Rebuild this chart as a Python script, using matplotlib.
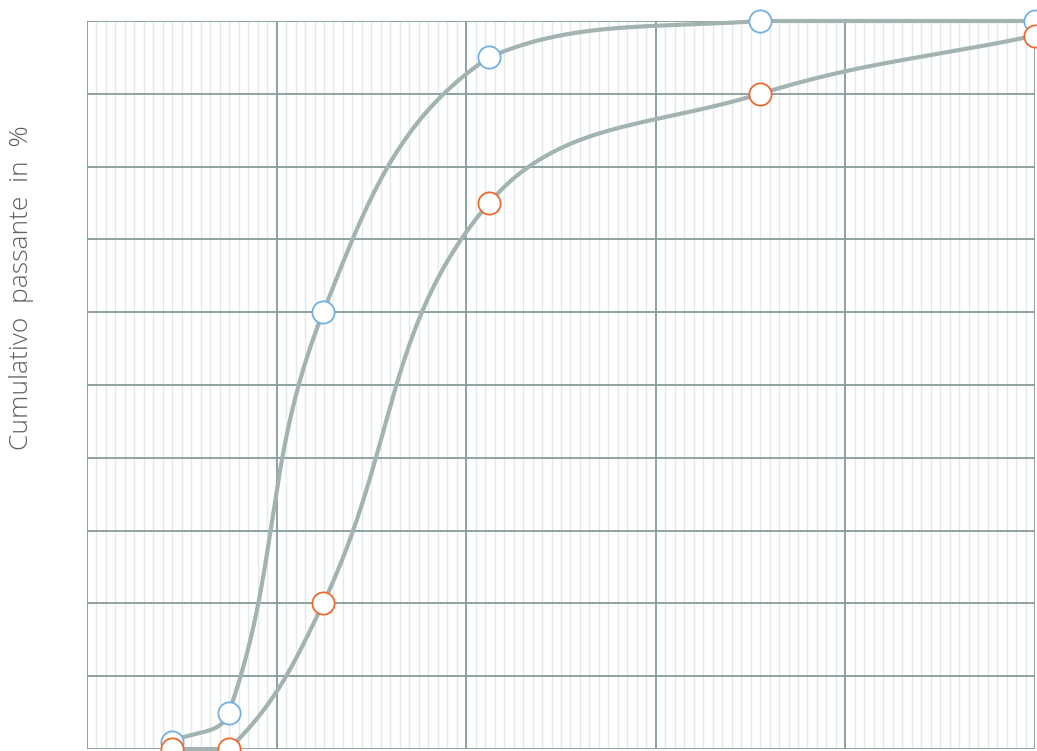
import numpy as np
import matplotlib
matplotlib.use("Agg")
import matplotlib.pyplot as plt

# grain size (log axis, 5 decades) and cumulative passing in %
size = [0.0028, 0.0056, 0.0176, 0.132, 3.55, 100.0]
blue_pass = [1, 5, 60, 95, 100, 100]
orange_pass = [0, 0, 20, 75, 90, 98]

xmin, xmax = 0.001, 100.0
W, H = 1037, 751
ax_l, ax_b, ax_w, ax_h = 87, 2, 948, 728

line_col = "#a2b3b2"
major_col = "#869a9a"
minor_col = "#e2e9e9"
blue = "#72b1e2"
orange = "#ea6a2f"


def to_px(x, y):
    fx = (np.log10(x) - np.log10(xmin)) / (np.log10(xmax) - np.log10(xmin))
    return fx * ax_w, (1 - np.asarray(y) / 100.0) * ax_h


def from_px(px, py):
    lx = np.log10(xmin) + px / ax_w * (np.log10(xmax) - np.log10(xmin))
    return 10 ** lx, (1 - py / ax_h) * 100.0


def spline(xs, ys, t=0.4, n=60):
    # bezier smoothing with control points clamped to the plot area
    px, py = to_px(np.array(xs), np.array(ys))
    pts = list(zip(px, py))
    m = len(pts)
    cps = []
    for i in range(m):
        prev = pts[i - 1] if i > 0 else pts[i]
        cur = pts[i]
        nxt = pts[i + 1] if i < m - 1 else pts[i]
        d01 = np.hypot(cur[0] - prev[0], cur[1] - prev[1])
        d12 = np.hypot(nxt[0] - cur[0], nxt[1] - cur[1])
        s01 = d01 / (d01 + d12) if d01 + d12 > 0 else 0
        s12 = d12 / (d01 + d12) if d01 + d12 > 0 else 0
        fa, fb = t * s01, t * s12
        cp_prev = [cur[0] - fa * (nxt[0] - prev[0]), cur[1] - fa * (nxt[1] - prev[1])]
        cp_next = [cur[0] + fb * (nxt[0] - prev[0]), cur[1] + fb * (nxt[1] - prev[1])]
        for c in (cp_prev, cp_next):
            c[0] = min(max(c[0], 0), ax_w)
            c[1] = min(max(c[1], 0), ax_h)
        cps.append((cp_prev, cp_next))
    outx, outy = [], []
    tt = np.linspace(0, 1, n)
    for i in range(m - 1):
        p0 = np.array(pts[i])
        p1 = np.array(cps[i][1])
        p2 = np.array(cps[i + 1][0])
        p3 = np.array(pts[i + 1])
        b = ((1 - tt) ** 3)[:, None] * p0 + (3 * (1 - tt) ** 2 * tt)[:, None] * p1 \
            + (3 * (1 - tt) * tt ** 2)[:, None] * p2 + (tt ** 3)[:, None] * p3
        outx.extend(b[:, 0])
        outy.extend(b[:, 1])
    return from_px(np.array(outx), np.array(outy))


fig = plt.figure(figsize=(W / 100, H / 100), dpi=100)
ax = fig.add_axes([ax_l / W, ax_b / H, ax_w / W, ax_h / H])
ax.set_xscale("log")
ax.set_xlim(xmin, xmax)
ax.set_ylim(0, 100)

# minor grid: 20 even steps per decade
for k in range(-3, 2):
    for i in range(1, 20):
        ax.axvline(10 ** (k + i / 20), color=minor_col, lw=1.0, zorder=0)
for k in range(-3, 3):
    ax.axvline(10.0 ** k, color=major_col, lw=1.3, zorder=1)
for v in range(0, 101, 10):
    ax.axhline(v, color=major_col, lw=1.3, zorder=1)

for s in ax.spines.values():
    s.set_visible(False)
ax.set_xticks([])
ax.set_yticks([])
ax.minorticks_off()
ax.tick_params(which="both", length=0, labelbottom=False, labelleft=False)

for ys, col in [(blue_pass, blue), (orange_pass, orange)]:
    cx, cy = spline(size, ys)
    ax.plot(cx, cy, color=line_col, lw=3.0, zorder=2, solid_capstyle="round", clip_on=False)
for ys, col in [(blue_pass, blue), (orange_pass, orange)]:
    ax.plot(size, ys, "o", ms=16, mfc="white", mec=col, mew=1.3, zorder=3, clip_on=False)

fig.text(22 / W, 1 - 288 / H, "Cumulativo  passante  in  %", rotation=90,
         ha="center", va="center", fontsize=19, color="#606060",
         family=["Open Sans", "DejaVu Sans"], fontweight="light")

fig.savefig("out.png", dpi=100)
